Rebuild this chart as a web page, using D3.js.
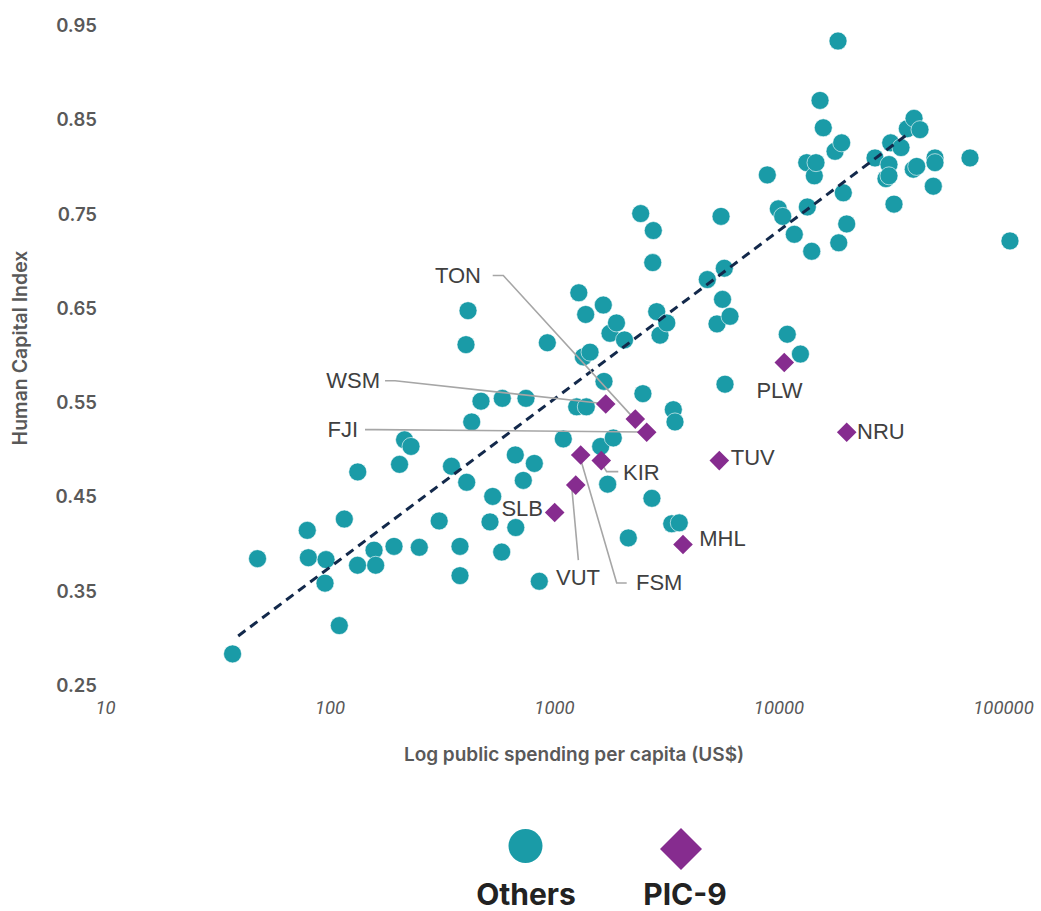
<!DOCTYPE html>
<html>
<head>
<meta charset="utf-8">
<script src="https://cdn.jsdelivr.net/npm/d3@7"></script>
<style>
  html, body { margin: 0; padding: 0; background: #ffffff; }
  svg { display: block; }
</style>
</head>
<body>
<svg id="chart" width="1041" height="911"></svg>
<script>
// ---------------- DATA ----------------
const xTicks = [10, 100, 1000, 10000, 100000];
const yTicks = [0.25, 0.35, 0.45, 0.55, 0.65, 0.75, 0.85, 0.95];

// "Others" : public spending per capita (US$) and Human Capital Index
const othersX = [37.0, 47.8, 79.6, 80.5, 96.5, 95.5, 110.6, 116.4, 133.6, 133.3,
  157.9, 160.6, 193.8, 205.1, 215.9, 230.7, 251.2, 308, 349.4, 381.3,
  381.3, 408.4, 405.5, 414, 430, 472.9, 518.7, 533.3, 584.8, 588.4,
  672.3, 675.7, 729.9, 750.3, 817.2, 860, 933.8, 1100, 1262, 1290,
  1351, 1393, 1384, 1447, 1614, 1658, 1670, 1734, 1776, 1837,
  1898, 2061, 2143, 2433, 2489, 2730, 2753, 2769, 2867, 2966,
  3180, 3345, 3400, 3459, 3615, 4818, 5321, 5546, 5632, 5736,
  5777, 6081, 8915, 9979, 10440, 10940, 11760, 12520, 13360, 13440,
  14060, 14440, 14690, 15310, 15830, 17860, 18410, 18550, 19120, 19440,
  20130, 26910, 30110, 31060, 31060, 31610, 32690, 35130, 37480, 39850,
  40150, 41270, 42680, 48930, 49780, 49780, 71290, 107400];
const othersY = [0.283, 0.384, 0.414, 0.385, 0.383, 0.358, 0.313, 0.426, 0.476, 0.377,
  0.393, 0.377, 0.397, 0.484, 0.510, 0.503, 0.396, 0.424, 0.482, 0.397,
  0.366, 0.465, 0.611, 0.647, 0.529, 0.551, 0.423, 0.450, 0.391, 0.554,
  0.494, 0.417, 0.467, 0.554, 0.485, 0.360, 0.613, 0.511, 0.545, 0.666,
  0.598, 0.545, 0.643, 0.603, 0.503, 0.653, 0.572, 0.463, 0.623, 0.512,
  0.634, 0.616, 0.406, 0.750, 0.559, 0.448, 0.698, 0.732, 0.646, 0.621,
  0.634, 0.421, 0.542, 0.529, 0.422, 0.680, 0.633, 0.747, 0.659, 0.692,
  0.569, 0.641, 0.791, 0.755, 0.747, 0.622, 0.728, 0.601, 0.804, 0.757,
  0.710, 0.790, 0.804, 0.870, 0.841, 0.816, 0.933, 0.719, 0.825, 0.772,
  0.739, 0.809, 0.787, 0.802, 0.790, 0.825, 0.760, 0.820, 0.840, 0.797,
  0.851, 0.800, 0.839, 0.779, 0.809, 0.804, 0.809, 0.721];

// "PIC-9" (Pacific island countries)
const picCodes = ["WSM", "TON", "FJI", "FSM", "KIR", "VUT", "SLB", "PLW", "NRU", "TUV", "MHL"];
const picX = [1700, 2302, 2588, 1315, 1624, 1250, 1007, 10610, 20130, 5449, 3755];
const picY = [0.548, 0.532, 0.518, 0.494, 0.488, 0.462, 0.433, 0.592, 0.518, 0.488, 0.399];

// fitted trend line (end points)
const trendX = [39.2, 37000];
const trendY = [0.302, 0.833];

const seriesNames = ["Others", "PIC-9"];

// ---------------- LAYOUT / STYLE ----------------
const teal = "#1a9ba7";
const purple = "#862c8f";
const navy = "#13294b";
const labelColor = "#404040";
const axisColor = "#595959";

// annotation layout (pixel offsets relative to the marker)
const annot = {
  WSM: { dx: -225.7, dy: -24,   anchor: "end",    leader: [[-220.7,-23.3],[-210.7,-23.3],[-3,-0.5]] },
  TON: { dx: -154.3, dy: -144.3, anchor: "end",   leader: [[-142.6,-143.6],[-132,-143.6],[-3,-2.5]] },
  FJI: { dx: -288.7, dy: -3,    anchor: "end",    leader: [[-281.7,-2.7],[-271.7,-2.7],[-4,-0.3]] },
  KIR: { dx: 21.7,  dy: 11.3,   anchor: "start",  leader: [[17,11],[5.4,11],[-3,-2.4]] },
  FSM: { dx: 55.3,  dy: 127.3,  anchor: "start",  leader: [[46,128],[36,128],[-2.7,-4.7]] },
  VUT: { dx: 2.3,   dy: 92,     anchor: "middle", leader: [[2.6,75],[-4,2]] },
  SLB: { dx: -11.7, dy: -4,     anchor: "end",    leader: null },
  PLW: { dx: -4.8,  dy: 27.7,   anchor: "middle", leader: null },
  NRU: { dx: 10.3,  dy: -1.3,   anchor: "start",  leader: null },
  TUV: { dx: 11.4,  dy: -3.7,   anchor: "start",  leader: null },
  MHL: { dx: 16.3,  dy: -6,     anchor: "start",  leader: null }
};

const svg = d3.select("#chart");

const x = d3.scaleLog().domain([10, 100000]).range([105, 1003]);
const y = d3.scaleLinear().domain([0.25, 0.95]).range([685, 25]);

// Y axis tick labels (no line)
const yAxis = d3.axisLeft(y).tickValues(yTicks).tickSize(0).tickPadding(0)
  .tickFormat(d3.format(".2f"));
const gy = svg.append("g").attr("transform", "translate(97,0)").call(yAxis);
gy.select(".domain").remove();
gy.selectAll("text")
  .attr("fill", axisColor)
  .style("font-family", "Inter, 'Open Sans', sans-serif")
  .style("font-weight", 600)
  .style("font-size", "18.5px")
  .attr("dy", "0.35em");

// X axis tick labels
const xAxis = d3.axisBottom(x).tickValues(xTicks).tickSize(0).tickPadding(0)
  .tickFormat(d3.format("d"));
const gx = svg.append("g").attr("transform", "translate(0,701)").call(xAxis);
gx.select(".domain").remove();
gx.selectAll("text")
  .attr("fill", axisColor)
  .attr("dy", "0.71em")
  .style("font-family", "Roboto, sans-serif")
  .style("font-style", "italic")
  .style("font-size", "18.5px");

// Axis titles
svg.append("text")
  .attr("transform", "translate(27,348) rotate(-90)")
  .attr("text-anchor", "middle")
  .attr("fill", axisColor)
  .style("font-family", "Inter, sans-serif")
  .style("font-weight", 600)
  .style("font-size", "19.5px")
  .text("Human Capital Index");

svg.append("text")
  .attr("x", 574).attr("y", 761)
  .attr("text-anchor", "middle")
  .attr("fill", axisColor)
  .style("font-family", "Inter, sans-serif")
  .style("font-weight", 600)
  .style("font-size", "19px")
  .text("Log public spending per capita (US$)");

// Others points
const others = othersX.map((v, i) => ({ x: v, y: othersY[i] }));
svg.append("g").selectAll("circle").data(others).join("circle")
  .attr("cx", d => x(d.x)).attr("cy", d => y(d.y)).attr("r", 9)
  .attr("fill", teal).attr("stroke", "#ffffff").attr("stroke-width", 0.6);

// trend line
const trend = trendX.map((v, i) => ({ x: v, y: trendY[i] }));
svg.append("path")
  .datum(trend)
  .attr("d", d3.line().x(d => x(d.x)).y(d => y(d.y)))
  .attr("fill", "none")
  .attr("stroke", navy)
  .attr("stroke-width", 3)
  .attr("stroke-dasharray", "9,6");

// PIC data
const pics = picCodes.map((c, i) => ({ code: c, x: picX[i], y: picY[i] }));

// leader lines
svg.append("g").selectAll("polyline").data(pics.filter(d => annot[d.code].leader)).join("polyline")
  .attr("points", d => annot[d.code].leader.map(p => [x(d.x) + p[0], y(d.y) + p[1]].join(",")).join(" "))
  .attr("fill", "none")
  .attr("stroke", "#a6a6a6")
  .attr("stroke-width", 1.6);

// diamonds
const diamond = s => `M0,${-s}L${s},0L0,${s}L${-s},0Z`;
svg.append("g").selectAll("path").data(pics).join("path")
  .attr("transform", d => `translate(${x(d.x)},${y(d.y)})`)
  .attr("d", diamond(9.8))
  .attr("fill", purple);

// labels
svg.append("g").selectAll("text").data(pics).join("text")
  .attr("x", d => x(d.x) + annot[d.code].dx)
  .attr("y", d => y(d.y) + annot[d.code].dy)
  .attr("dy", "0.35em")
  .attr("text-anchor", d => annot[d.code].anchor)
  .attr("fill", labelColor)
  .style("font-family", "'Liberation Sans', Arial, sans-serif")
  .style("font-size", "22px")
  .text(d => d.code);

// Legend
const leg = svg.append("g");
leg.append("circle").attr("cx", 525.5).attr("cy", 846).attr("r", 17).attr("fill", teal);
leg.append("path").attr("transform", "translate(681,849)").attr("d", diamond(21)).attr("fill", purple);
leg.selectAll("text.leg").data(seriesNames).join("text")
  .attr("class", "leg")
  .attr("x", (d, i) => i === 0 ? 526 : 685)
  .attr("y", 905)
  .attr("text-anchor", "middle")
  .attr("fill", "#222222")
  .style("font-family", "Inter, sans-serif")
  .style("font-weight", 700)
  .style("font-size", "30px")
  .text(d => d);
</script>
</body>
</html>
